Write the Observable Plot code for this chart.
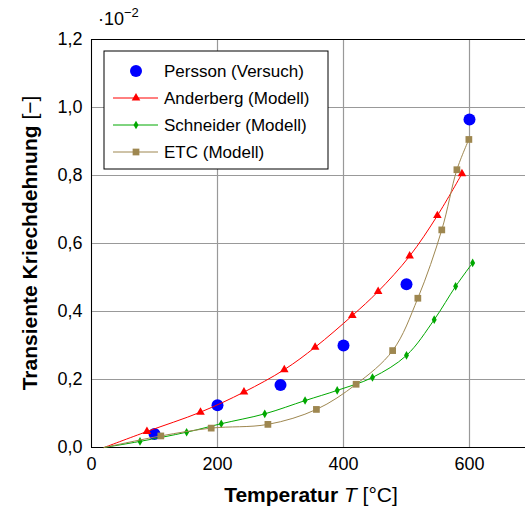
<!DOCTYPE html>
<html>
<head>
<meta charset="utf-8">
<script src="https://cdn.jsdelivr.net/npm/d3@7"></script>
<script src="https://cdn.jsdelivr.net/npm/@observablehq/plot@0.6"></script>
<style>
  html, body { margin: 0; padding: 0; background: #fff; overflow: hidden; }
  #chart { width: 525px; height: 510px; overflow: hidden; }
  #chart svg { max-width: none !important; }
</style>
</head>
<body>
<div id="chart"></div>
<script>
// Transient creep strain (in units of 1e-2) versus temperature in °C
const xTicks = [0, 200, 400, 600];
const yTicks = [0, 0.2, 0.4, 0.6, 0.8, 1.0, 1.2];

// Persson (test data)
const perssonT = [100, 200, 300, 400, 500, 600];
const perssonE = [0.040, 0.124, 0.184, 0.300, 0.480, 0.965];

// Anderberg (model)
const anderbergT = [20, 88, 173, 242, 306, 355, 414, 455, 505, 549, 588];
const anderbergE = [0, 0.047, 0.104, 0.163, 0.229, 0.295, 0.388, 0.459, 0.563, 0.682, 0.805];

// Schneider (model)
const schneiderT = [20, 77, 151, 206, 275, 339, 390, 446, 500, 544, 578, 605];
const schneiderE = [0, 0.018, 0.045, 0.070, 0.099, 0.138, 0.168, 0.206, 0.271, 0.376, 0.474, 0.543];

// ETC (model)
const etcT = [20, 110, 190, 280, 357, 420, 478, 518, 556, 580, 599];
const etcE = [0, 0.034, 0.057, 0.068, 0.112, 0.186, 0.285, 0.439, 0.640, 0.817, 0.906];

const seriesNames = ["Persson (Versuch)", "Anderberg (Modell)", "Schneider (Modell)", "ETC (Modell)"];
const seriesColors = ["#0000ff", "#ff0000", "#00a800", "#9e8750"];
const markerR = [6, 3.2, 2.6, 3.8];

const toRows = (ts, es) => ts.map((t, i) => ({t, e: es[i]}));
const persson = toRows(perssonT, perssonE);
const anderberg = toRows(anderbergT, anderbergE);
const schneider = toRows(schneiderT, schneiderE);
const etc = toRows(etcT, etcE);

const fmt = d => d.toFixed(1).replace(".", ",");
const font = "'Liberation Sans', Arial, Helvetica, sans-serif";

const modelMarks = (rows, color, symbol, r) => [
  Plot.line(rows, {x: "t", y: "e", stroke: color, strokeWidth: 1, curve: "catmull-rom"}),
  Plot.dot(rows.slice(1), {x: "t", y: "e", symbol, fill: color, stroke: "none", r})
];

const chart = Plot.plot({
  width: 540,
  height: 510,
  marginLeft: 91,
  marginRight: 8,
  marginTop: 39,
  marginBottom: 63,
  style: {fontFamily: font, fontSize: "18px", color: "#000", background: "#fff", maxWidth: "none"},
  x: {domain: [0, 700]},
  y: {domain: [0, 1.2]},
  marks: [
    Plot.gridX(xTicks, {stroke: "#999", strokeOpacity: 1, strokeWidth: 1.2}),
    Plot.gridY(yTicks, {stroke: "#999", strokeOpacity: 1, strokeWidth: 1.2}),
    Plot.frame({stroke: "#000", strokeWidth: 1}),
    Plot.axisX(xTicks, {tickSize: 0, tickPadding: 10, label: null}),
    Plot.axisY(yTicks, {tickSize: 0, tickPadding: 9, tickFormat: fmt, label: null}),
    Plot.dot(persson, {x: "t", y: "e", r: markerR[0], fill: seriesColors[0], stroke: "none"}),
    ...modelMarks(anderberg, seriesColors[1], "triangle", markerR[1]),
    ...modelMarks(schneider, seriesColors[2], "diamond", markerR[2]),
    ...modelMarks(etc, seriesColors[3], "square", markerR[3])
  ]
});

document.getElementById("chart").append(chart);

const svg = d3.select(chart);

// Scale factor note above the y axis
const exp = svg.append("text")
  .attr("x", 98).attr("y", 25)
  .attr("text-anchor", "start")
  .attr("font-family", font).attr("font-size", 18);
exp.append("tspan").text("·10");
exp.append("tspan").attr("dy", -8).attr("font-size", 13).text("−2");

// Axis titles
const xl = svg.append("text")
  .attr("x", 311).attr("y", 502)
  .attr("text-anchor", "middle")
  .attr("font-family", font).attr("font-size", 21);
xl.append("tspan").attr("font-weight", "bold").text("Temperatur ");
xl.append("tspan").attr("font-style", "italic").text("T");
xl.append("tspan").text(" [°C]");

const yl = svg.append("text")
  .attr("transform", "translate(37,243) rotate(-90)")
  .attr("text-anchor", "middle")
  .attr("font-family", font).attr("font-size", 21);
yl.append("tspan").attr("font-weight", "bold").text("Transiente Kriechdehnung ");
yl.append("tspan").text("[−]");

// Legend box
const lg = svg.append("g")
  .attr("text-anchor", "start")
  .attr("font-family", font).attr("font-size", 17);
lg.append("rect")
  .attr("x", 104).attr("y", 51).attr("width", 224).attr("height", 118)
  .attr("fill", "#fff").attr("stroke", "#000").attr("stroke-width", 1);

const legendSymbols = [d3.symbolCircle, d3.symbolTriangle, d3.symbolDiamond, d3.symbolSquare];
seriesNames.forEach((name, i) => {
  const cy = 71 + i * 27;
  if (i > 0) {
    lg.append("line")
      .attr("x1", 113).attr("x2", 158).attr("y1", cy).attr("y2", cy)
      .attr("stroke", seriesColors[i]).attr("stroke-width", 1);
  }
  lg.append("path")
    .attr("transform", `translate(136,${cy})`)
    .attr("d", d3.symbol().type(legendSymbols[i]).size(Math.PI * markerR[i] * markerR[i])())
    .attr("fill", seriesColors[i]);
  lg.append("text")
    .attr("x", 164).attr("y", cy).attr("dy", "0.35em")
    .text(name);
});
</script>
</body>
</html>
